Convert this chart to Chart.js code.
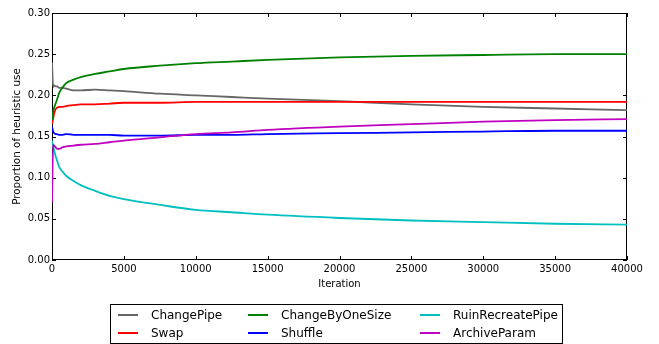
<!DOCTYPE html>
<html>
<head>
<meta charset="utf-8">
<script src="https://cdn.jsdelivr.net/npm/chart.js@4"></script>
<style>
  html, body { margin: 0; padding: 0; background: #fff; }
  #wrap { position: relative; width: 659px; height: 344px; }
  #legend {
    position: absolute; left: 110px; top: 304px; width: 453px; height: 40px;
    border: 1px solid #000; box-sizing: border-box;
    font-family: 'DejaVu Sans', sans-serif; font-size: 12px; color: #000;
  }
  .item { position: absolute; height: 16px; line-height: 16px; white-space: nowrap; }
  .item i { position: absolute; left: 0; top: 7px; width: 20px; height: 2px; }
  .item span { position: absolute; left: 33px; top: 0; }
</style>
</head>
<body>
<div id="wrap">
  <canvas id="chart" width="659" height="344"></canvas>
  <div id="legend"></div>
</div>
<script>
// iteration samples
const iterations = [0, 80, 150, 250, 350, 500, 750, 1000, 1500, 2000, 3000, 4000, 5000, 7500, 10000, 12500, 15000, 20000, 25000, 30000, 35000, 40000];

const changePipe      = [0.240, 0.210, 0.212, 0.211, 0.211, 0.209, 0.209, 0.208, 0.206, 0.206, 0.207, 0.206, 0.205, 0.202, 0.200, 0.198, 0.196, 0.193, 0.189, 0.186, 0.184, 0.182];
const swap            = [0.165, 0.172, 0.178, 0.183, 0.185, 0.186, 0.186, 0.187, 0.188, 0.189, 0.189, 0.190, 0.191, 0.191, 0.192, 0.192, 0.192, 0.192, 0.192, 0.192, 0.192, 0.192];
const changeByOneSize = [0.170, 0.180, 0.185, 0.190, 0.195, 0.203, 0.210, 0.215, 0.219, 0.222, 0.226, 0.229, 0.232, 0.236, 0.239, 0.241, 0.243, 0.246, 0.248, 0.249, 0.250, 0.250];
const shuffle         = [0.162, 0.156, 0.154, 0.153, 0.153, 0.152, 0.152, 0.153, 0.152, 0.152, 0.152, 0.152, 0.151, 0.151, 0.152, 0.152, 0.153, 0.154, 0.155, 0.156, 0.157, 0.157];
const ruinRecreate    = [0.145, 0.138, 0.133, 0.126, 0.121, 0.113, 0.107, 0.102, 0.096, 0.091, 0.084, 0.078, 0.074, 0.067, 0.061, 0.058, 0.055, 0.051, 0.048, 0.046, 0.044, 0.043];
const archiveParam    = [0.070, 0.140, 0.139, 0.137, 0.135, 0.135, 0.137, 0.138, 0.139, 0.140, 0.141, 0.143, 0.145, 0.149, 0.153, 0.155, 0.158, 0.162, 0.165, 0.168, 0.170, 0.171];

const xTicks = [0, 5000, 10000, 15000, 20000, 25000, 30000, 35000, 40000];
const yTicks = [0.00, 0.05, 0.10, 0.15, 0.20, 0.25, 0.30];

const series = [
  { label: 'ChangePipe', data: changePipe, color: '#666666' },
  { label: 'Swap', data: swap, color: '#ff0000' },
  { label: 'ChangeByOneSize', data: changeByOneSize, color: '#008000' },
  { label: 'Shuffle', data: shuffle, color: '#0000ff' },
  { label: 'RuinRecreatePipe', data: ruinRecreate, color: '#00bfbf' },
  { label: 'ArchiveParam', data: archiveParam, color: '#bf00bf' }
];

const FONT = "'DejaVu Sans', sans-serif";
Chart.defaults.font.family = FONT;
Chart.defaults.color = '#000';

// frame + inward ticks on all four sides, matplotlib classic look
const framePlugin = {
  id: 'frame',
  beforeDatasetsDraw(chart) {
    const { ctx, chartArea: a, scales } = chart;
    ctx.save();
    ctx.strokeStyle = '#000';
    ctx.lineWidth = 1;
    ctx.strokeRect(a.left + 0.5, a.top + 0.5, a.right - a.left - 1, a.bottom - a.top - 1);
    ctx.beginPath();
    xTicks.forEach(v => {
      const x = Math.round(scales.x.getPixelForValue(v)) + 0.5;
      ctx.moveTo(x, a.bottom); ctx.lineTo(x, a.bottom - 4);
      ctx.moveTo(x, a.top); ctx.lineTo(x, a.top + 4);
    });
    yTicks.forEach(v => {
      const y = Math.round(scales.y.getPixelForValue(v)) + 0.5;
      ctx.moveTo(a.left, y); ctx.lineTo(a.left + 4, y);
      ctx.moveTo(a.right, y); ctx.lineTo(a.right - 4, y);
    });
    ctx.stroke();
    ctx.restore();
  }
};

const ctx = document.getElementById('chart').getContext('2d');
const chart = new Chart(ctx, {
  type: 'line',
  data: {
    datasets: series.map((s, i) => ({
      label: s.label,
      data: iterations.map((it, k) => ({ x: it, y: s.data[k] })),
      borderColor: s.color,
      backgroundColor: s.color,
      borderWidth: 1.8,
      pointRadius: 0,
      cubicInterpolationMode: 'monotone',
      fill: false,
      order: series.length - i
    }))
  },
  options: {
    responsive: false,
    animation: false,
    layout: { padding: { left: 11, right: 32, top: 13, bottom: 54 } },
    plugins: { legend: { display: false }, tooltip: { enabled: false } },
    scales: {
      x: {
        type: 'linear', min: 0, max: 40000,
        afterBuildTicks: s => { s.ticks = xTicks.map(v => ({ value: v })); },
        afterFit: s => { s.height = 30; },
        grid: { display: false, drawTicks: false },
        border: { display: false },
        ticks: { font: { size: 10 }, padding: 3, maxRotation: 0, callback: v => String(v) },
        title: { display: true, text: 'Iteration', font: { size: 10 }, padding: { top: 1, bottom: 0 } }
      },
      y: {
        type: 'linear', min: 0, max: 0.3,
        afterBuildTicks: s => { s.ticks = yTicks.map(v => ({ value: v })); },
        afterFit: s => { s.width = 41; },
        grid: { display: false, drawTicks: false },
        border: { display: false },
        ticks: { font: { size: 10 }, padding: 2, callback: v => v.toFixed(2) },
        title: { display: true, text: 'Proportion of heuristic use', font: { size: 10.4 }, padding: { top: 0, bottom: 0 } }
      }
    }
  },
  plugins: [framePlugin]
});

// legend, three columns filled column by column
const legendEl = document.getElementById('legend');
const colX = [7, 137, 309];
series.forEach((s, i) => {
  const col = Math.floor(i / 2), row = i % 2;
  const d = document.createElement('div');
  d.className = 'item';
  d.style.left = colX[col] + 'px';
  d.style.top = (2 + row * 17.5) + 'px';
  d.innerHTML = `<i style="background:${s.color}"></i><span>${s.label}</span>`;
  legendEl.appendChild(d);
});
</script>
</body>
</html>
